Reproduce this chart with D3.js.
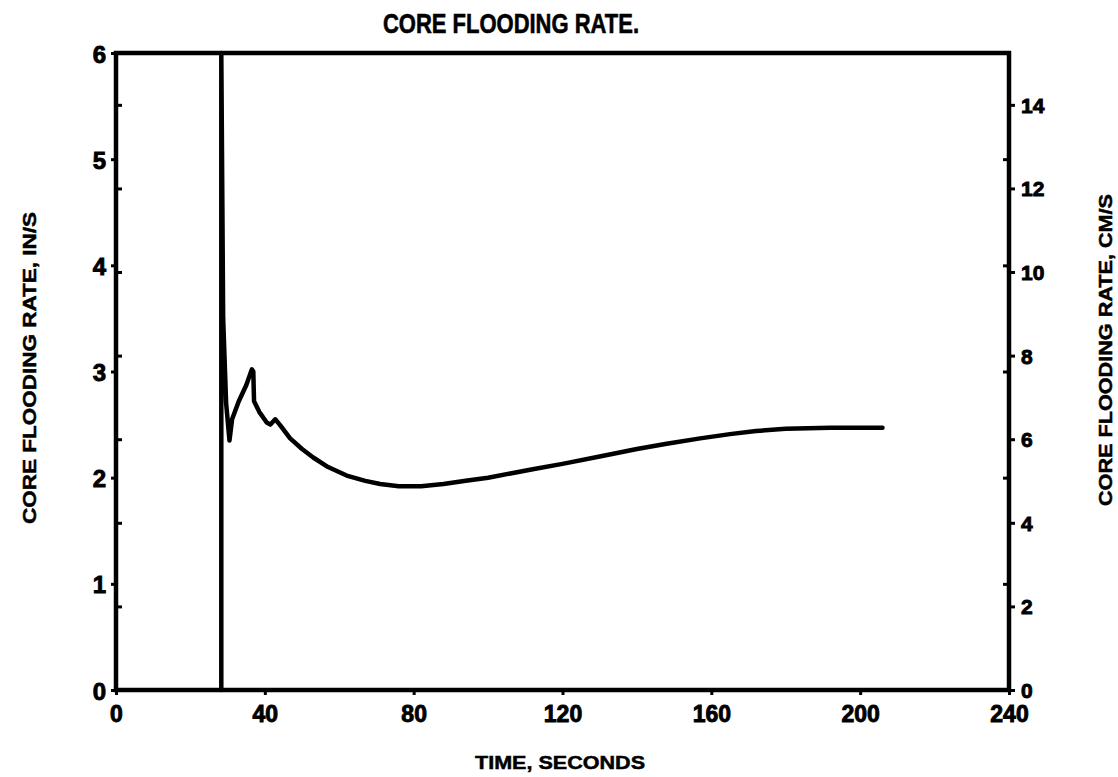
<!DOCTYPE html>
<html>
<head>
<meta charset="utf-8">
<script src="https://cdn.jsdelivr.net/npm/d3@7"></script>
<style>
  html, body { margin: 0; padding: 0; background: #fff; }
  svg { display: block; }
  text { font-family: "Liberation Sans", Arial, sans-serif; font-weight: bold; fill: #000; }
</style>
</head>
<body>
<svg id="chart" width="1118" height="777"></svg>
<script>
// ---- data ----
const title = "CORE FLOODING RATE.";
const xLabel = "TIME, SECONDS";
const yLeftLabel = "CORE FLOODING RATE, IN/S";
const yRightLabel = "CORE FLOODING RATE, CM/S";
const xTicks = [0, 40, 80, 120, 160, 200, 240];
const yLeftTicks = [0, 1, 2, 3, 4, 5, 6];
const yRightTicks = [0, 2, 4, 6, 8, 10, 12, 14];
const timeSec = [28.3, 28.3, 28.8, 29.6, 30.5, 31.2, 33, 35, 36.5, 36.9, 37.1, 38.5, 40.5, 41.5, 42.8, 44,
  46.8, 50, 53, 57, 62, 67, 71, 76, 82, 88, 94, 100, 106, 112, 120, 130, 140, 148, 157, 165, 172, 180, 192, 206];
const rateInS = [0, 6, 3.5, 2.7, 2.35, 2.55, 2.72, 2.87, 3.02, 3.0, 2.72, 2.62, 2.52, 2.5, 2.55, 2.5,
  2.37, 2.27, 2.19, 2.1, 2.02, 1.97, 1.94, 1.92, 1.92, 1.94, 1.97, 2.0, 2.04, 2.08, 2.13, 2.2, 2.27, 2.32, 2.37, 2.41, 2.44, 2.46, 2.47, 2.47];

// ---- layout ----
const svg = d3.select("#chart");
const L = 116, R = 1009, T = 53, B = 690;
const x = d3.scaleLinear().domain([0, 240]).range([L, R]);
const yL = d3.scaleLinear().domain([0, 6]).range([B, T]);
const yR = d3.scaleLinear().domain([0, 6 * 2.54]).range([B, T]);

// data line
const pts = timeSec.map((t, i) => [t, rateInS[i]]);
svg.append("path")
  .datum(pts)
  .attr("fill", "none")
  .attr("stroke", "#000")
  .attr("stroke-width", 4.5)
  .attr("stroke-linejoin", "round")
  .attr("stroke-linecap", "round")
  .attr("d", d3.line().x(d => x(d[0])).y(d => yL(d[1])));

// frame
svg.append("rect")
  .attr("x", L).attr("y", T).attr("width", R - L).attr("height", B - T)
  .attr("fill", "none").attr("stroke", "#000").attr("stroke-width", 4.5);

function styleAxis(g, fs) {
  g.select(".domain").remove();
  g.selectAll(".tick line").attr("stroke", "#000").attr("stroke-width", 3);
  g.selectAll(".tick text")
    .style("font-family", '"Liberation Sans", Arial, sans-serif')
    .style("font-weight", "bold")
    .style("font-size", fs + "px")
    .attr("fill", "#000")
    .attr("stroke", "#000")
    .attr("stroke-width", 0.9);
}

// bottom axis
const gx = svg.append("g").attr("transform", `translate(0,${B})`)
  .call(d3.axisBottom(x).tickValues(xTicks).tickSize(5).tickPadding(11).tickFormat(d3.format("d")));
styleAxis(gx, 23);

// left axis (in/s)
const gl = svg.append("g").attr("transform", `translate(${L},0)`)
  .call(d3.axisLeft(yL).tickValues(yLeftTicks).tickSize(5).tickPadding(5).tickFormat(d3.format("d")));
styleAxis(gl, 24);
gl.selectAll(".tick text").attr("dy", "0.38em");

// left axis inner ticks at cm/s positions
const gli = svg.append("g").attr("transform", `translate(${L},0)`)
  .call(d3.axisRight(yR).tickValues(yRightTicks.filter(v => v > 0)).tickSize(6).tickFormat(""));
styleAxis(gli, 10);

// right axis (cm/s)
const gr = svg.append("g").attr("transform", `translate(${R},0)`)
  .call(d3.axisRight(yR).tickValues(yRightTicks).tickSize(6).tickPadding(6).tickFormat(d3.format("d")));
styleAxis(gr, 21);
gr.selectAll(".tick text").attr("dy", "0.36em");

// right axis inner ticks at in/s positions
const gri = svg.append("g").attr("transform", `translate(${R},0)`)
  .call(d3.axisLeft(yL).tickValues(yLeftTicks.filter(v => v > 0 && v < 6)).tickSize(6).tickFormat(""));
styleAxis(gri, 10);

// title
svg.append("text")
  .attr("x", 511).attr("y", 33)
  .attr("text-anchor", "middle")
  .attr("font-size", 28)
  .attr("stroke", "#000").attr("stroke-width", 0.6)
  .attr("textLength", 256).attr("lengthAdjust", "spacingAndGlyphs")
  .text(title);

// x label
svg.append("text")
  .attr("x", 560).attr("y", 769)
  .attr("text-anchor", "middle")
  .attr("font-size", 19)
  .attr("stroke", "#000").attr("stroke-width", 0.5)
  .attr("textLength", 170).attr("lengthAdjust", "spacingAndGlyphs")
  .text(xLabel);

// left y label
svg.append("text")
  .attr("transform", "translate(36,368) rotate(-90)")
  .attr("text-anchor", "middle")
  .attr("font-size", 19)
  .attr("stroke", "#000").attr("stroke-width", 0.5)
  .attr("textLength", 312).attr("lengthAdjust", "spacingAndGlyphs")
  .text(yLeftLabel);

// right y label
svg.append("text")
  .attr("transform", "translate(1112,350) rotate(-90)")
  .attr("text-anchor", "middle")
  .attr("font-size", 19)
  .attr("stroke", "#000").attr("stroke-width", 0.5)
  .attr("textLength", 312).attr("lengthAdjust", "spacingAndGlyphs")
  .text(yRightLabel);
</script>
</body>
</html>
